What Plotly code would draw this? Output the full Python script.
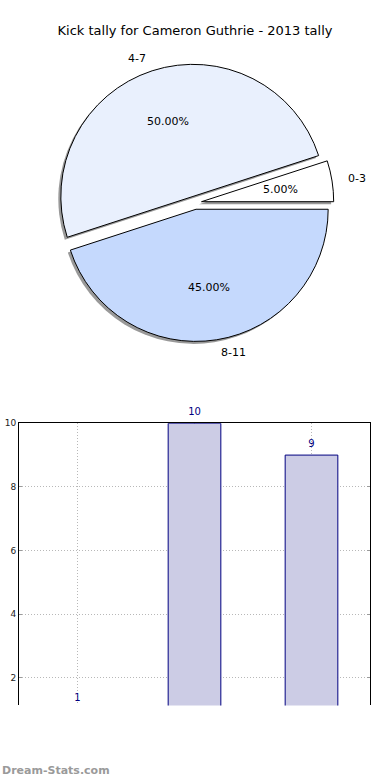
import math
import plotly.graph_objects as go

# ---- data ----
categories = ["0-3", "4-7", "8-11"]
kick_counts = [1, 10, 9]
pie_colors = ["#ffffff", "#e9f0fd", "#c5d9fd"]
bar_ticks = [2, 4, 6, 8, 10]
title_text = "Kick tally for Cameron Guthrie - 2013 tally"

W, H = 390, 780
pull = 0.05
total = sum(kick_counts)

# pie geometry (pixels)
cx, cy, r = 195.0, 199.0, 133.0
half = r * (1 + pull)


def px_to_paper(x, y):
    return x / W, 1 - y / H


def dom(cx_, cy_):
    x0, y1 = px_to_paper(cx_ - half, cy_ - half)
    x1, y0 = px_to_paper(cx_ + half, cy_ + half)
    return dict(x=[x0, x1], y=[y0, y1])


# plotly counterclockwise pies end their first slice at the rotation angle
rotation = 90 - 360 * kick_counts[0] / total

fig = go.Figure()

# shadow pie
fig.add_trace(go.Pie(
    labels=categories, values=kick_counts, sort=False,
    direction="counterclockwise", rotation=rotation, pull=[pull] * 3,
    marker=dict(colors=["#999999"] * 3, line=dict(width=0)),
    textinfo="none", hoverinfo="skip", showlegend=False,
    domain=dom(cx - 2.5, cy + 2.5),
))
# main pie
fig.add_trace(go.Pie(
    labels=categories, values=kick_counts, sort=False,
    direction="counterclockwise", rotation=rotation, pull=[pull] * 3,
    marker=dict(colors=pie_colors, line=dict(color="#000000", width=1)),
    textinfo="none", showlegend=False,
    domain=dom(cx, cy),
))

# pie labels (matplotlib-style positions)
annotations = []
start = 0.0
for lab, v in zip(categories, kick_counts):
    frac = v / total
    mid = (start + frac / 2) * 2 * math.pi
    start += frac
    dx, dy = math.cos(mid), -math.sin(mid)
    tx, ty = cx + pull * r * dx, cy + pull * r * dy
    px, py = tx + 0.6 * r * dx, ty + 0.6 * r * dy
    ax, ay = px_to_paper(px, py)
    annotations.append(dict(x=ax, y=ay, xref="paper", yref="paper",
                            text=f"{frac*100:.2f}%", showarrow=False,
                            xanchor="center", yanchor="middle",
                            font=dict(size=11, color="#000000")))
    lx, ly = tx + 1.1 * r * dx, ty + 1.1 * r * dy
    bx, by = px_to_paper(lx, ly)
    annotations.append(dict(x=bx, y=by, xref="paper", yref="paper",
                            text=lab, showarrow=False,
                            xanchor="left" if dx > 0 else "right",
                            yanchor="middle",
                            font=dict(size=11, color="#000000")))

# bar chart: visible axis cropped at y=1.125 (px 421..705, 32 px per unit)
y_lo, y_hi = 1.125, 10
top_px, bot_px = 421, 705
ppu = (bot_px - top_px) / (y_hi - y_lo)
# invisible companion axes with identical scale reaching lower, for value labels
lab_bot_px = 740
lab_lo = y_hi - (lab_bot_px - top_px) / ppu

fig.add_trace(go.Bar(
    x=categories, y=kick_counts, width=0.45,
    marker=dict(color="#ccccE5", line=dict(color="#000080", width=1)),
    xaxis="x", yaxis="y", showlegend=False, cliponaxis=True,
))
fig.add_trace(go.Scatter(
    x=categories, y=kick_counts, mode="markers+text",
    marker=dict(size=8, opacity=0),
    text=[str(v) for v in kick_counts], textposition="top center",
    textfont=dict(color="#000080", size=10),
    xaxis="x2", yaxis="y2", showlegend=False, cliponaxis=False,
    hoverinfo="skip",
))

bx0, by1 = px_to_paper(19, top_px)
bx1, by0 = px_to_paper(370, bot_px)
_, ly0 = px_to_paper(0, lab_bot_px)

annotations.append(dict(x=0, y=px_to_paper(0, 770)[1], xref="paper", yref="paper",
                        text="<b>Dream-Stats.com</b>", showarrow=False,
                        xanchor="left", yanchor="middle",
                        font=dict(size=11, color="#9a9a9a", family="DejaVu Sans")))

fig.update_layout(
    width=W, height=H,
    margin=dict(l=0, r=0, t=0, b=0),
    paper_bgcolor="#ffffff", plot_bgcolor="rgba(0,0,0,0)",
    font=dict(family="DejaVu Sans", color="#000000"),
    title=dict(text=title_text, x=0.5, xanchor="center",
               y=1 - 30 / H, yanchor="middle",
               font=dict(size=13, color="#000000")),
    xaxis=dict(domain=[bx0, bx1], anchor="y", type="category",
               range=[-0.5, 2.5], side="top", showline=True,
               linecolor="#000000", linewidth=1, showticklabels=False,
               showgrid=True, gridcolor="#b8b8b8", griddash="1px,2px",
               gridwidth=1, ticks="", zeroline=False, fixedrange=True),
    yaxis=dict(domain=[by0, by1], anchor="x", range=[y_lo, y_hi],
               tickvals=bar_ticks, showline=True, linecolor="#000000",
               linewidth=1, mirror="ticks", ticks="inside", ticklen=3,
               tickcolor="#9a9a9a", showgrid=True, gridcolor="#b8b8b8",
               griddash="1px,2px", gridwidth=1, zeroline=False,
               tickfont=dict(size=9, color="#222222"), fixedrange=True),
    xaxis2=dict(domain=[bx0, bx1], anchor="y2", type="category",
                range=[-0.5, 2.5], visible=False, showgrid=False,
                fixedrange=True),
    yaxis2=dict(domain=[ly0, by1], anchor="x2", range=[lab_lo, y_hi],
                visible=False, showgrid=False, fixedrange=True),
    annotations=annotations,
)

fig.write_html("out.html",
               config={"displayModeBar": False, "staticPlot": True},
               post_script="document.body.style.margin='0px';"
                           "document.body.style.overflow='hidden';")
